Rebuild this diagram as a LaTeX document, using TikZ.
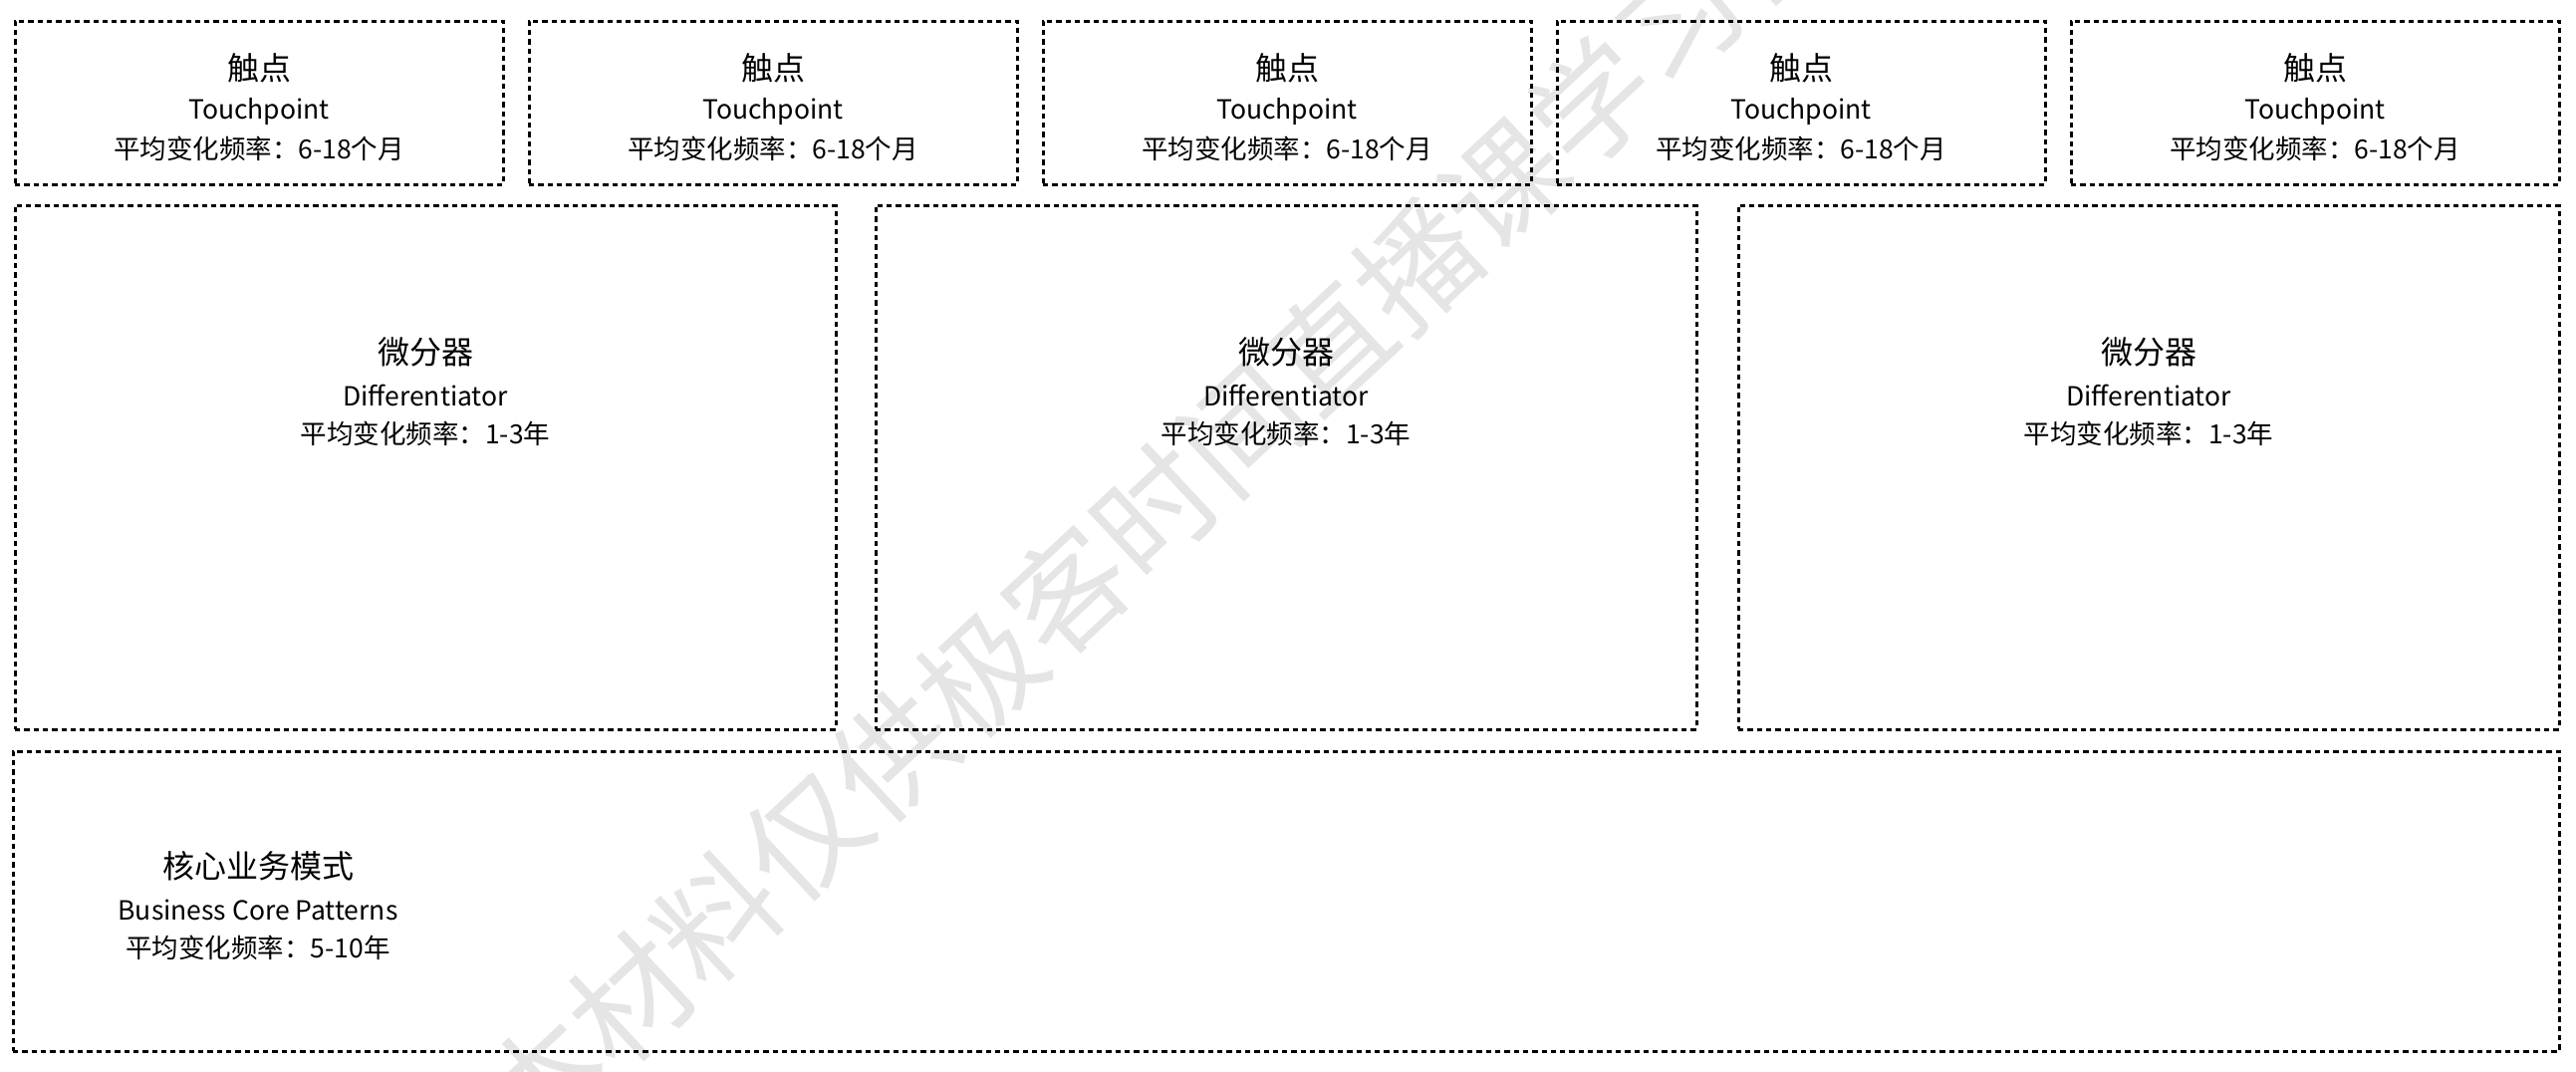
\documentclass[tikz,border=0pt]{standalone}
\usepackage{fontspec}
\setmainfont{Noto Sans CJK SC}
\newfontfamily\cjkfont{Noto Sans CJK SC}
\begin{document}
\begin{tikzpicture}[x=1pt,y=-1pt,
  dbox/.style={draw=black, line width=3pt, dash pattern=on 5.3pt off 4pt, rectangle, inner sep=0pt},
  ttl/.style={inner sep=0pt, font=\cjkfont\fontsize{32}{36}\selectfont},
  sub/.style={inner sep=0pt, font=\cjkfont\fontsize{26.5}{30}\selectfont},
  wm/.style={inner sep=0pt, text=black!10, font=\cjkfont\fontsize{120}{126}\selectfont}]
\useasboundingbox (0,0) rectangle (2586,1076);
\fill[white] (0,0) rectangle (2586,1076);
% watermark
\node[wm, rotate=43, anchor=west] (wmk) at (501,1126) {本材料仅供极客时间直播课学习使用};
% touchpoint boxes
\foreach \i/\cx in {1/260,2/776,3/1292,4/1808,5/2324}{
  \node[dbox, minimum width=490pt, minimum height=164pt] (tp\i) at (\cx,103) {};
  \node[ttl] (tpt\i) at (\cx,68) {触点};
  \node[sub] (tpe\i) at (\cx,112) {Touchpoint};
  \node[sub] (tpf\i) at (\cx,149) {平均变化频率：6-18个月};
}
% differentiator boxes
\foreach \i/\cx in {1/427,2/1291,3/2157}{
  \node[dbox, minimum width=824pt, minimum height=526pt] (df\i) at (\cx,469) {};
  \node[ttl] (dft\i) at (\cx,353) {微分器};
  \node[sub] (dfe\i) at (\cx,397) {Differentiator};
  \node[sub] (dff\i) at (\cx,435) {平均变化频率：1-3年};
}
% core box
\node[dbox, minimum width=2556pt, minimum height=301pt] (core) at (1291,904.5) {};
\node[ttl] (coret) at (259,869) {核心业务模式};
\node[sub] (coree) at (259,913) {Business Core Patterns};
\node[sub] (coref) at (259,951) {平均变化频率：5-10年};
\end{tikzpicture}
\end{document}
